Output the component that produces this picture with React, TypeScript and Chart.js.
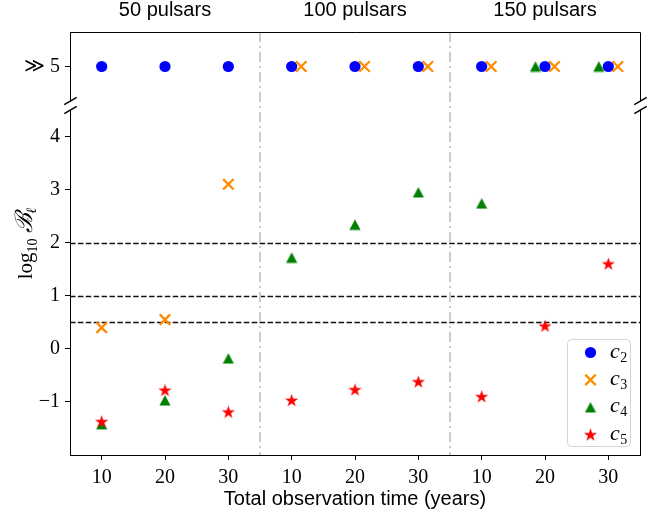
import React, { useEffect, useRef } from 'react';
import { Chart, registerables } from 'chart.js';

Chart.register(...registerables);

// "≫ 5" : value far above the lower panel, shown on the upper (broken) panel
const FAR = Infinity;
const FAR_TICK = 5;
const farTickLabel = '\u226B 5';

const categories = ['10', '20', '30', '10', '20', '30', '10', '20', '30'];
const groupLabels = ['50 pulsars', '100 pulsars', '150 pulsars'];
const groupBoundaries = [2.5, 5.5];

const c2Values = [FAR, FAR, FAR, FAR, FAR, FAR, FAR, FAR, FAR];
const c3Values = [0.40, 0.55, 3.10, FAR, FAR, FAR, FAR, FAR, FAR];
const c4Values = [-1.42, -0.97, -0.18, 1.72, 2.34, 2.95, 2.74, FAR, FAR];
const c5Values = [-1.37, -0.78, -1.19, -0.97, -0.77, -0.62, -0.90, 0.43, 1.60];

const seriesBases = ['c', 'c', 'c', 'c'];
const seriesSubs = ['2', '3', '4', '5'];
const yTickValues = [-1, 0, 1, 2, 3, 4];
const thresholdLines = [0.5, 1, 2];

const xTitle = 'Total observation time (years)';

const SERIF = '"Liberation Serif", "DejaVu Serif", serif';
const SANS = '"Liberation Sans", Arial, sans-serif';

function makeCanvas(w: number, h: number, draw: (ctx: CanvasRenderingContext2D) => void) {
  const c = document.createElement('canvas');
  c.width = w;
  c.height = h;
  const ctx = c.getContext('2d')!;
  draw(ctx);
  return c;
}

function makeStar(color: string) {
  return makeCanvas(15, 15, (ctx) => {
    const cx = 7.5, cy = 7.9, R = 7, r = R * 0.382;
    ctx.beginPath();
    for (let k = 0; k < 10; k++) {
      const rad = k % 2 === 0 ? R : r;
      const a = -Math.PI / 2 + (k * Math.PI) / 5;
      const px = cx + rad * Math.cos(a);
      const py = cy + rad * Math.sin(a);
      if (k === 0) ctx.moveTo(px, py);
      else ctx.lineTo(px, py);
    }
    ctx.closePath();
    ctx.fillStyle = color;
    ctx.fill();
  });
}

function makeTriangle(color: string) {
  return makeCanvas(12, 12, (ctx) => {
    ctx.beginPath();
    ctx.moveTo(6, 0.8);
    ctx.lineTo(11.6, 11.2);
    ctx.lineTo(0.4, 11.2);
    ctx.closePath();
    ctx.fillStyle = color;
    ctx.fill();
  });
}

export default function App() {
  const ref = useRef<HTMLCanvasElement>(null);

  useEffect(() => {
    if (!ref.current) return;

    const starImg = makeStar('#ff0000');
    const triImg = makeTriangle('#008000');

    const series = [
      { values: c2Values, color: '#0000ff', style: 'circle' as any, radius: 5.6, borderWidth: 0, dodge: 0 },
      { values: c3Values, color: '#ff8c00', style: 'crossRot' as any, radius: 7.4, borderWidth: 2.3, dodge: 0.15 },
      { values: c4Values, color: '#008000', style: triImg as any, radius: 6, borderWidth: 0, dodge: -0.15 },
      { values: c5Values, color: '#ff0000', style: starImg as any, radius: 6, borderWidth: 0, dodge: 0 },
    ];

    const datasets: any[] = [];
    series.forEach((s, si) => {
      const lower = s.values
        .map((v, i) => ({ x: i, y: v }))
        .filter((p) => Number.isFinite(p.y));
      const upper = s.values
        .map((v, i) => ({ x: i + s.dodge, y: v }))
        .filter((p) => !Number.isFinite(p.y))
        .map((p) => ({ x: p.x, y: FAR_TICK }));
      const common = {
        type: 'scatter',
        showLine: false,
        pointStyle: s.style,
        pointRadius: s.radius,
        pointHoverRadius: s.radius,
        backgroundColor: s.color,
        borderColor: s.color,
        pointBorderWidth: s.borderWidth,
        borderWidth: s.borderWidth,
        order: series.length - 1 - si,
      };
      if (lower.length) datasets.push({ ...common, label: seriesBases[si] + seriesSubs[si], data: lower, xAxisID: 'x', yAxisID: 'y' });
      if (upper.length) datasets.push({ ...common, label: seriesBases[si] + seriesSubs[si] + ' top', data: upper, xAxisID: 'x', yAxisID: 'yTop' });
    });

    const tickFont = { family: SERIF, size: 20 };

    const decorations = {
      id: 'decorations',
      beforeDatasetsDraw(chart: any) {
        const { ctx, chartArea } = chart;
        const xs = chart.scales.x;
        const ys = chart.scales.y;
        ctx.save();
        ctx.strokeStyle = '#111111';
        ctx.lineWidth = 1.4;
        ctx.setLineDash([5.5, 2.4]);
        thresholdLines.forEach((t) => {
          const y = Math.round(ys.getPixelForValue(t)) + 0.5;
          ctx.beginPath();
          ctx.moveTo(chartArea.left, y);
          ctx.lineTo(chartArea.right, y);
          ctx.stroke();
        });
        ctx.strokeStyle = '#cccccc';
        ctx.lineWidth = 2;
        ctx.setLineDash([10, 4, 2, 4]);
        groupBoundaries.forEach((b) => {
          const x = xs.getPixelForValue(b);
          ctx.beginPath();
          ctx.moveTo(x, chartArea.top);
          ctx.lineTo(x, chartArea.bottom);
          ctx.stroke();
        });
        ctx.restore();
      },
      afterDraw(chart: any) {
        const { ctx, chartArea } = chart;
        const xs = chart.scales.x;
        const ys = chart.scales.y;
        const yt = chart.scales.yTop;
        ctx.save();
        ctx.strokeStyle = '#000';
        ctx.lineWidth = 1;
        ctx.setLineDash([]);
        const topY = Math.round(chartArea.top) + 0.5;
        const rightX = Math.round(chartArea.right) + 0.5;
        ctx.beginPath();
        ctx.moveTo(chartArea.left, topY);
        ctx.lineTo(rightX, topY);
        ctx.lineTo(rightX, chartArea.bottom);
        ctx.stroke();

        // axis break
        const gapTop = yt.bottom;
        const gapBottom = ys.getPixelForValue(4.5);
        const spineXs = [Math.round(chartArea.left) + 0.5, rightX];
        ctx.fillStyle = '#ffffff';
        spineXs.forEach((x) => {
          ctx.fillRect(x - 2, gapTop + 0.5, 4, gapBottom - gapTop - 1);
        });
        ctx.strokeStyle = '#000';
        ctx.lineWidth = 1.5;
        spineXs.forEach((x) => {
          [gapTop, gapBottom].forEach((y) => {
            ctx.beginPath();
            ctx.moveTo(x - 6.2, y + 3.7);
            ctx.lineTo(x + 6.2, y - 3.7);
            ctx.stroke();
          });
        });

        // group labels above the plot
        ctx.fillStyle = '#000';
        ctx.font = `20px ${SANS}`;
        ctx.textAlign = 'center';
        ctx.textBaseline = 'alphabetic';
        groupLabels.forEach((g, gi) => {
          const x = xs.getPixelForValue(gi * 3 + 1);
          ctx.fillText(g, x, 16);
        });

        // y-axis title: log_10 B_l
        const pieces = [
          { t: 'log', font: `21px ${SERIF}`, dy: 0 },
          { t: '10', font: `14px ${SERIF}`, dy: 5 },
          { t: '  ', font: `10px ${SERIF}`, dy: 0 },
          { t: '\u212C', font: `italic 24px ${SERIF}`, dy: 0 },
          { t: '\u2113', font: `italic 14px ${SERIF}`, dy: 4 },
        ];
        let total = 0;
        const widths = pieces.map((p) => {
          ctx.font = p.font;
          const w = ctx.measureText(p.t).width;
          total += w;
          return w;
        });
        ctx.translate(31.5, (chartArea.top + chartArea.bottom) / 2);
        ctx.rotate(-Math.PI / 2);
        ctx.textAlign = 'left';
        let cx = -total / 2;
        pieces.forEach((p, i) => {
          ctx.font = p.font;
          ctx.fillText(p.t, cx, p.dy);
          cx += widths[i];
        });
        ctx.setTransform(1, 0, 0, 1, 0, 0);

        // legend
        const lw = 63, lh = 107;
        const lx = chartArea.right - 10 - lw;
        const ly = chartArea.bottom - 9 - lh;
        ctx.beginPath();
        ctx.roundRect(lx + 0.5, ly + 0.5, lw, lh, 4);
        ctx.fillStyle = 'rgba(255,255,255,0.8)';
        ctx.fill();
        ctx.strokeStyle = '#d4d4d4';
        ctx.lineWidth = 1;
        ctx.stroke();
        series.forEach((s, si) => {
          const ry = ly + 13.5 + si * 27.4;
          const mx = lx + 23.5;
          if (s.style === 'circle') {
            ctx.beginPath();
            ctx.arc(mx, ry, s.radius, 0, Math.PI * 2);
            ctx.fillStyle = s.color;
            ctx.fill();
          } else if (s.style === 'crossRot') {
            const h = s.radius * Math.SQRT1_2;
            ctx.strokeStyle = s.color;
            ctx.lineWidth = s.borderWidth;
            ctx.beginPath();
            ctx.moveTo(mx - h, ry - h);
            ctx.lineTo(mx + h, ry + h);
            ctx.moveTo(mx + h, ry - h);
            ctx.lineTo(mx - h, ry + h);
            ctx.stroke();
          } else {
            const img = s.style as HTMLCanvasElement;
            ctx.drawImage(img, mx - img.width / 2, ry - img.height / 2);
          }
          ctx.fillStyle = '#000';
          ctx.textAlign = 'left';
          ctx.textBaseline = 'alphabetic';
          ctx.font = `italic 22px ${SERIF}`;
          const tx = lx + 43;
          ctx.fillText(seriesBases[si], tx, ry + 5);
          const bw = ctx.measureText(seriesBases[si]).width;
          ctx.font = `14px ${SERIF}`;
          ctx.fillText(seriesSubs[si], tx + bw + 0.5, ry + 9);
        });
        ctx.restore();
      },
    };

    const chart = new Chart(ref.current, {
      type: 'scatter',
      data: { datasets },
      plugins: [decorations],
      options: {
        responsive: false,
        animation: false,
        devicePixelRatio: 1,
        layout: { padding: { top: 32, right: 20, left: 0, bottom: 0 } },
        plugins: { legend: { display: false }, tooltip: { enabled: false }, title: { display: false } },
        scales: {
          x: {
            type: 'linear',
            position: 'bottom',
            min: -0.5,
            max: 8.5,
            afterBuildTicks: (s: any) => {
              s.ticks = categories.map((_, i) => ({ value: i }));
            },
            afterFit: (s: any) => {
              s.height = 61;
            },
            ticks: {
              autoSkip: false,
              maxRotation: 0,
              color: '#000',
              font: tickFont,
              padding: 6,
              callback: (_v: any, i: number) => categories[i],
            },
            grid: { display: true, drawOnChartArea: false, tickLength: 5, color: '#000', lineWidth: 1 },
            border: { display: true, color: '#000', width: 1 },
            title: {
              display: true,
              text: xTitle,
              color: '#000',
              font: { family: SANS, size: 20 },
              padding: { top: 5, bottom: 5 },
            },
          },
          y: {
            type: 'linear',
            position: 'left',
            stack: 'left',
            stackWeight: 354,
            min: -2,
            max: 4.67,
            afterBuildTicks: (s: any) => {
              s.ticks = yTickValues.map((v) => ({ value: v }));
            },
            afterFit: (s: any) => {
              s.width = 70;
            },
            ticks: { color: '#000', font: tickFont, padding: 5, callback: (v: any) => String(v).replace('-', '\u2212') },
            grid: { display: true, drawOnChartArea: false, tickLength: 5, color: '#000', lineWidth: 1 },
            border: { display: true, color: '#000', width: 1 },
          },
          yTop: {
            type: 'linear',
            position: 'left',
            stack: 'left',
            stackWeight: 69,
            min: 4.5,
            max: 5.5,
            afterBuildTicks: (s: any) => {
              s.ticks = [{ value: FAR_TICK }];
            },
            afterFit: (s: any) => {
              s.width = 70;
            },
            ticks: { color: '#000', font: tickFont, padding: 5, callback: () => farTickLabel },
            grid: { display: true, drawOnChartArea: false, tickLength: 5, color: '#000', lineWidth: 1 },
            border: { display: true, color: '#000', width: 1 },
          },
        },
      } as any,
    } as any);

    return () => chart.destroy();
  }, []);

  return (
    <div style={{ position: 'absolute', left: 0, top: 0, width: 660, height: 516 }}>
      <canvas ref={ref} width={660} height={516} style={{ display: 'block' }} />
    </div>
  );
}
